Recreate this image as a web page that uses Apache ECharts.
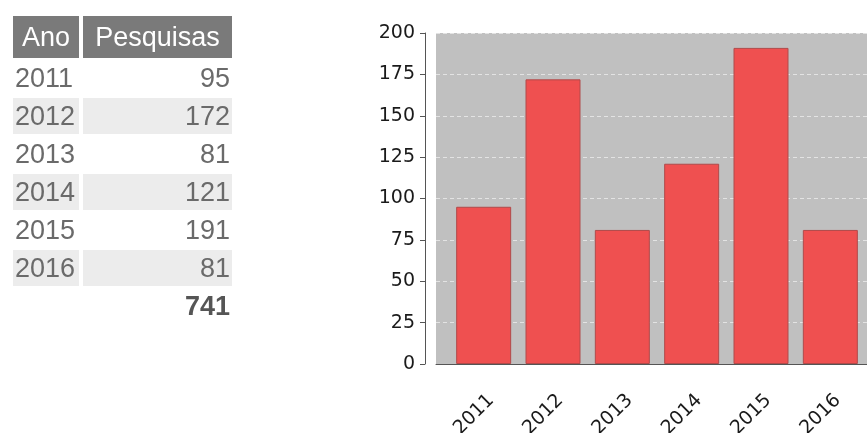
<!DOCTYPE html>
<html>
<head>
<meta charset="utf-8">
<title>Pesquisas por ano</title>
<script src="https://cdn.jsdelivr.net/npm/echarts@6/dist/echarts.min.js"></script>
<style>
    html, body { margin:0; padding:0; background:#fff; }
    #chart { position:absolute; left:0; top:0; width:867px; height:433px; }
    #tabela {
        position:absolute; left:9px; top:14px;
        border-collapse:separate; border-spacing:4px 2px;
        font-family:"Liberation Sans", Arial, sans-serif; font-size:27px; color:#6a6a6a;
    }
    #tabela th { background:#7a7a7a; color:#fff; font-weight:normal; padding:4px 2px 3px 2px; height:35px; }
    #tabela td { padding:0 2px; height:36px; }
    #tabela td.num { text-align:right; }
    #tabela tr.par td { background:#ececec; }
    #tabela td.total { font-weight:bold; color:#555; }
</style>
</head>
<body>
<div id="chart"></div>
<table id="tabela"></table>
<script>
// dados
var anos = ['2011', '2012', '2013', '2014', '2015', '2016'];
var pesquisas = [95, 172, 81, 121, 191, 81];
var cabecalho = ['Ano', 'Pesquisas'];

// tabela
function montaTabela(){
    var html = '<tr><th style="width:62px">' + cabecalho[0] + '</th><th style="width:145px">' + cabecalho[1] + '</th></tr>';
    var total = 0;
    for (var i = 0; i < anos.length; i++) {
        total += pesquisas[i];
        html += '<tr' + (i % 2 ? ' class="par"' : '') + '><td>' + anos[i] + '</td><td class="num">' + pesquisas[i] + '</td></tr>';
    }
    html += '<tr><td></td><td class="num total">' + total + '</td></tr>';
    document.getElementById('tabela').innerHTML = html;
}

var fonte = 'DejaVu Sans, Verdana, sans-serif';

function formatData(){
    return {
        animation: false,
        grid: [
            // fundo cinza
            { left: 436, top: 33, width: 431, height: 331, outerBoundsMode: 'none', show: true, backgroundColor: '#c0c0c0', borderWidth: 0 },
            // barras
            { left: 449, top: 33, width: 416, height: 331, outerBoundsMode: 'none' }
        ],
        xAxis: [
            {
                gridIndex: 0, type: 'category', data: anos, offset: 11,
                axisLine: { lineStyle: { color: '#555', width: 1 } },
                axisTick: { show: false },
                axisLabel: { show: false }
            },
            {
                gridIndex: 1, type: 'category', data: anos, offset: 11,
                axisLine: { show: false },
                axisTick: { show: false },
                axisLabel: {
                    rotate: 45, margin: 15, verticalAlign: 'top', lineHeight: 21,
                    color: '#1a1a1a', fontSize: 19, fontFamily: fonte
                }
            }
        ],
        yAxis: [
            {
                gridIndex: 0, type: 'value', min: 0, max: 200, interval: 25, offset: 11,
                axisLine: { show: true, lineStyle: { color: '#555', width: 1 } },
                axisTick: { show: true, length: 5, lineStyle: { color: '#555' } },
                axisLabel: { color: '#1a1a1a', fontSize: 19, fontFamily: fonte, margin: 10 },
                splitLine: { lineStyle: { color: 'rgba(255,255,255,0.55)', type: [4, 3], width: 1 } }
            },
            {
                gridIndex: 1, type: 'value', min: 0, max: 200, show: false,
                splitLine: { show: false }
            }
        ],
        series: [
            {
                name: 'Pesquisas',
                type: 'bar',
                xAxisIndex: 1,
                yAxisIndex: 1,
                barWidth: 55,
                data: pesquisas,
                itemStyle: { color: '#ef5050', borderColor: '#b04a4a', borderWidth: 1 }
            }
        ]
    };
}

montaTabela();
var myChart = echarts.init(document.getElementById('chart'));
myChart.setOption(formatData());
</script>
</body>
</html>
